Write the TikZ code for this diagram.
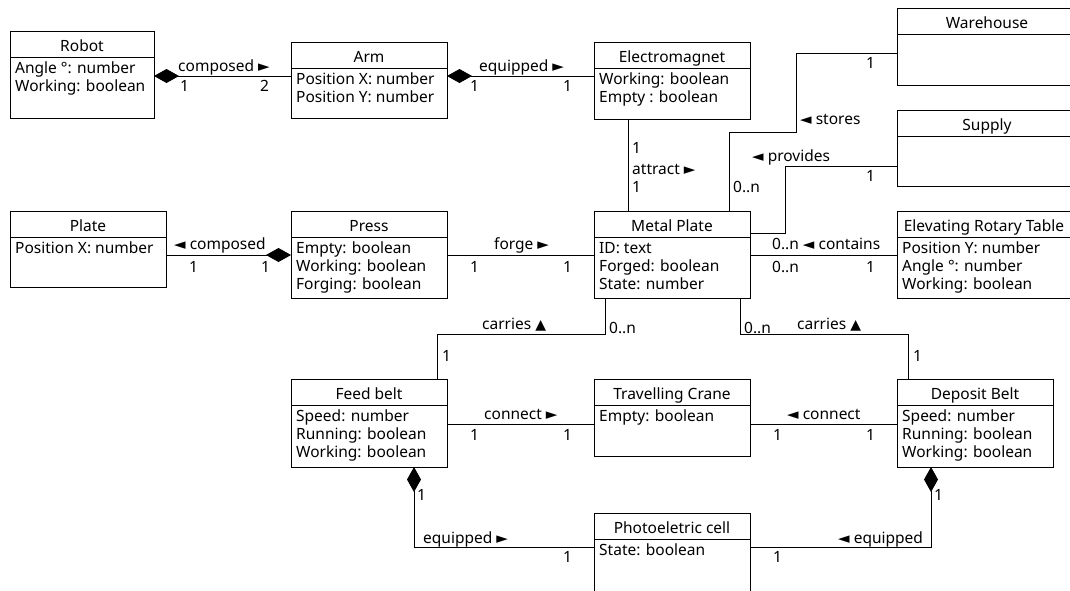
\documentclass[tikz,border=0pt]{standalone}
\usepackage{fontspec}
\setmainfont{Noto Sans}
\newfontfamily\symf{DejaVu Sans}
\usetikzlibrary{arrows.meta}
\newcommand{\rarr}{{\symf\fontsize{15}{15}\selectfont ►}}
\newcommand{\larr}{{\symf\fontsize{15}{15}\selectfont ◄}}
\newcommand{\uarr}{{\symf\fontsize{14}{14}\selectfont ▲}}
\newcommand{\attrlist}[1]{\begin{tabular}[t]{@{}l@{}}#1\end{tabular}}
% name, x, y, width, height, title, attributes
\newcommand{\umlclass}[7]{%
  \node[cls, minimum width=#4pt, minimum height=#5pt] (#1) at (#2,#3) {};
  \draw[conn] ([yshift=-26pt]#1.north west) -- ([yshift=-26pt]#1.north east);
  \node[hdr] (#1-t) at ([yshift=-20pt]#1.north) {#6};
  \node[att] (#1-a) at ([xshift=5pt,yshift=-42.5pt]#1.north west) {\attrlist{#7}};
}
\begin{document}
\begin{tikzpicture}[x=1pt,y=-1pt,
  every node/.style={font=\fontsize{15.5}{18}\selectfont, text=black},
  cls/.style={draw=black, line width=1pt, anchor=north west, inner sep=0pt, outer sep=0pt, fill=white},
  hdr/.style={anchor=base, inner sep=0pt},
  att/.style={anchor=base west, inner sep=0pt},
  lbl/.style={anchor=base west, inner sep=0pt},
  conn/.style={draw=black, line width=1pt},
  comp/.style={conn, {Diamond[length=25pt,width=14pt]}-}]
\useasboundingbox (0,0) rectangle (1070,590);
\clip (0,0) rectangle (1070,590);

\umlclass{robot}{10}{31}{144}{87}{Robot}{Angle °: number\\Working: boolean}
\umlclass{arm}{291}{42}{156}{76}{Arm}{Position X: number\\Position Y: number}
\umlclass{em}{594}{42}{156}{77}{Electromagnet}{Working: boolean\\Empty : boolean}
\umlclass{wh}{897}{8}{180}{77}{Warehouse}{}
\umlclass{sup}{897}{110}{180}{76}{Supply}{}
\umlclass{plate}{10}{211}{156}{76}{Plate}{Position X: number}
\umlclass{press}{291}{211}{156}{87}{Press}{Empty: boolean\\Working: boolean\\Forging: boolean}
\umlclass{mp}{594}{211}{156}{87}{Metal Plate}{ID: text\\Forged: boolean\\State: number}
\umlclass{ert}{897}{211}{174}{87}{Elevating Rotary Table}{Position Y: number\\Angle °: number\\Working: boolean}
\umlclass{feed}{291}{379}{156}{88}{Feed belt}{Speed: number\\Running: boolean\\Working: boolean}
\umlclass{crane}{594}{379}{156}{77}{Travelling Crane}{Empty: boolean}
\umlclass{dep}{897}{379}{156}{88}{Deposit Belt}{Speed: number\\Running: boolean\\Working: boolean}
\umlclass{photo}{594}{513}{156}{90}{Photoeletric cell}{State: boolean}

% Robot - Arm
\draw[comp] (robot.east |- 0,76) -- (arm.west |- 0,76);
\node[lbl] (l1a) at (178,71) {composed \rarr};
\node[lbl] (l1b) at (180,91) {1};
\node[lbl] (l1c) at (260,91) {2};
% Arm - Electromagnet
\draw[comp] (arm.east |- 0,76) -- (em.west |- 0,76);
\node[lbl] (l2a) at (479,71) {equipped \rarr};
\node[lbl] (l2b) at (470,91) {1};
\node[lbl] (l2c) at (563,91) {1};
% Electromagnet - Metal Plate
\draw[conn] (em.south -| 628,0) -- (mp.north -| 628,0);
\node[lbl] (l3a) at (632,153) {1};
\node[lbl] (l3b) at (632,174) {attract \rarr};
\node[lbl] (l3c) at (632,192) {1};
% Metal Plate - Warehouse
\draw[conn] (mp.north -| 729,0) |- (796,132) |- (wh.west |- 0,53);
\node[lbl] (l4a) at (800,124) {\larr{} stores};
\node[lbl] (l4b) at (866,68) {1};
\node[lbl] (l4c) at (733,192) {0..n};
% Metal Plate - Supply
\draw[conn] (mp.east |- 0,233) -| (785,166) -- (sup.west |- 0,166);
\node[lbl] (l5a) at (752,161) {\larr{} provides};
\node[lbl] (l5b) at (866,181) {1};
% Metal Plate - Elevating Rotary Table
\draw[conn] (mp.east |- 0,255) -- (ert.west |- 0,255);
\node[lbl] (l6a) at (772,249) {0..n \larr{} contains};
\node[lbl] (l6b) at (772,272) {0..n};
\node[lbl] (l6c) at (866,272) {1};
% Press - Metal Plate
\draw[conn] (press.east |- 0,255) -- (mp.west |- 0,255);
\node[lbl] (l7a) at (494,249) {forge \rarr};
\node[lbl] (l7b) at (470,272) {1};
\node[lbl] (l7c) at (563,272) {1};
% Plate - Press
\draw[comp] (press.west |- 0,255) -- (plate.east |- 0,255);
\node[lbl] (l8a) at (174,249) {\larr{} composed};
\node[lbl] (l8b) at (189,272) {1};
\node[lbl] (l8c) at (261,272) {1};
% Metal Plate - Feed belt
\draw[conn] (mp.south -| 605,0) |- (437,334) -- (feed.north -| 437,0);
\node[lbl] (l9a) at (482,329) {carries \uarr};
\node[lbl] (l9b) at (609,333) {0..n};
\node[lbl] (l9c) at (442,361) {1};
% Metal Plate - Deposit Belt
\draw[conn] (mp.south -| 740,0) |- (908,334) -- (dep.north -| 908,0);
\node[lbl] (l10a) at (797,329) {carries \uarr};
\node[lbl] (l10b) at (744,333) {0..n};
\node[lbl] (l10c) at (913,361) {1};
% Feed belt - Travelling Crane
\draw[conn] (feed.east |- 0,424) -- (crane.west |- 0,424);
\node[lbl] (l11a) at (484,419) {connect \rarr};
\node[lbl] (l11b) at (470,440) {1};
\node[lbl] (l11c) at (563,440) {1};
% Travelling Crane - Deposit Belt
\draw[conn] (crane.east |- 0,424) -- (dep.west |- 0,424);
\node[lbl] (l12a) at (787,419) {\larr{} connect};
\node[lbl] (l12b) at (773,440) {1};
\node[lbl] (l12c) at (866,440) {1};
% Feed belt - Photoeletric cell
\draw[comp] (feed.south -| 414,0) |- (photo.west |- 0,547);
\node[lbl] (l13a) at (417,500) {1};
\node[lbl] (l13b) at (423,543) {equipped \rarr};
\node[lbl] (l13c) at (563,562) {1};
% Deposit Belt - Photoeletric cell
\draw[comp] (dep.south -| 931,0) |- (photo.east |- 0,547);
\node[lbl] (l14a) at (934,500) {1};
\node[lbl] (l14b) at (838,543) {\larr{} equipped};
\node[lbl] (l14c) at (773,562) {1};
\end{tikzpicture}
\end{document}
